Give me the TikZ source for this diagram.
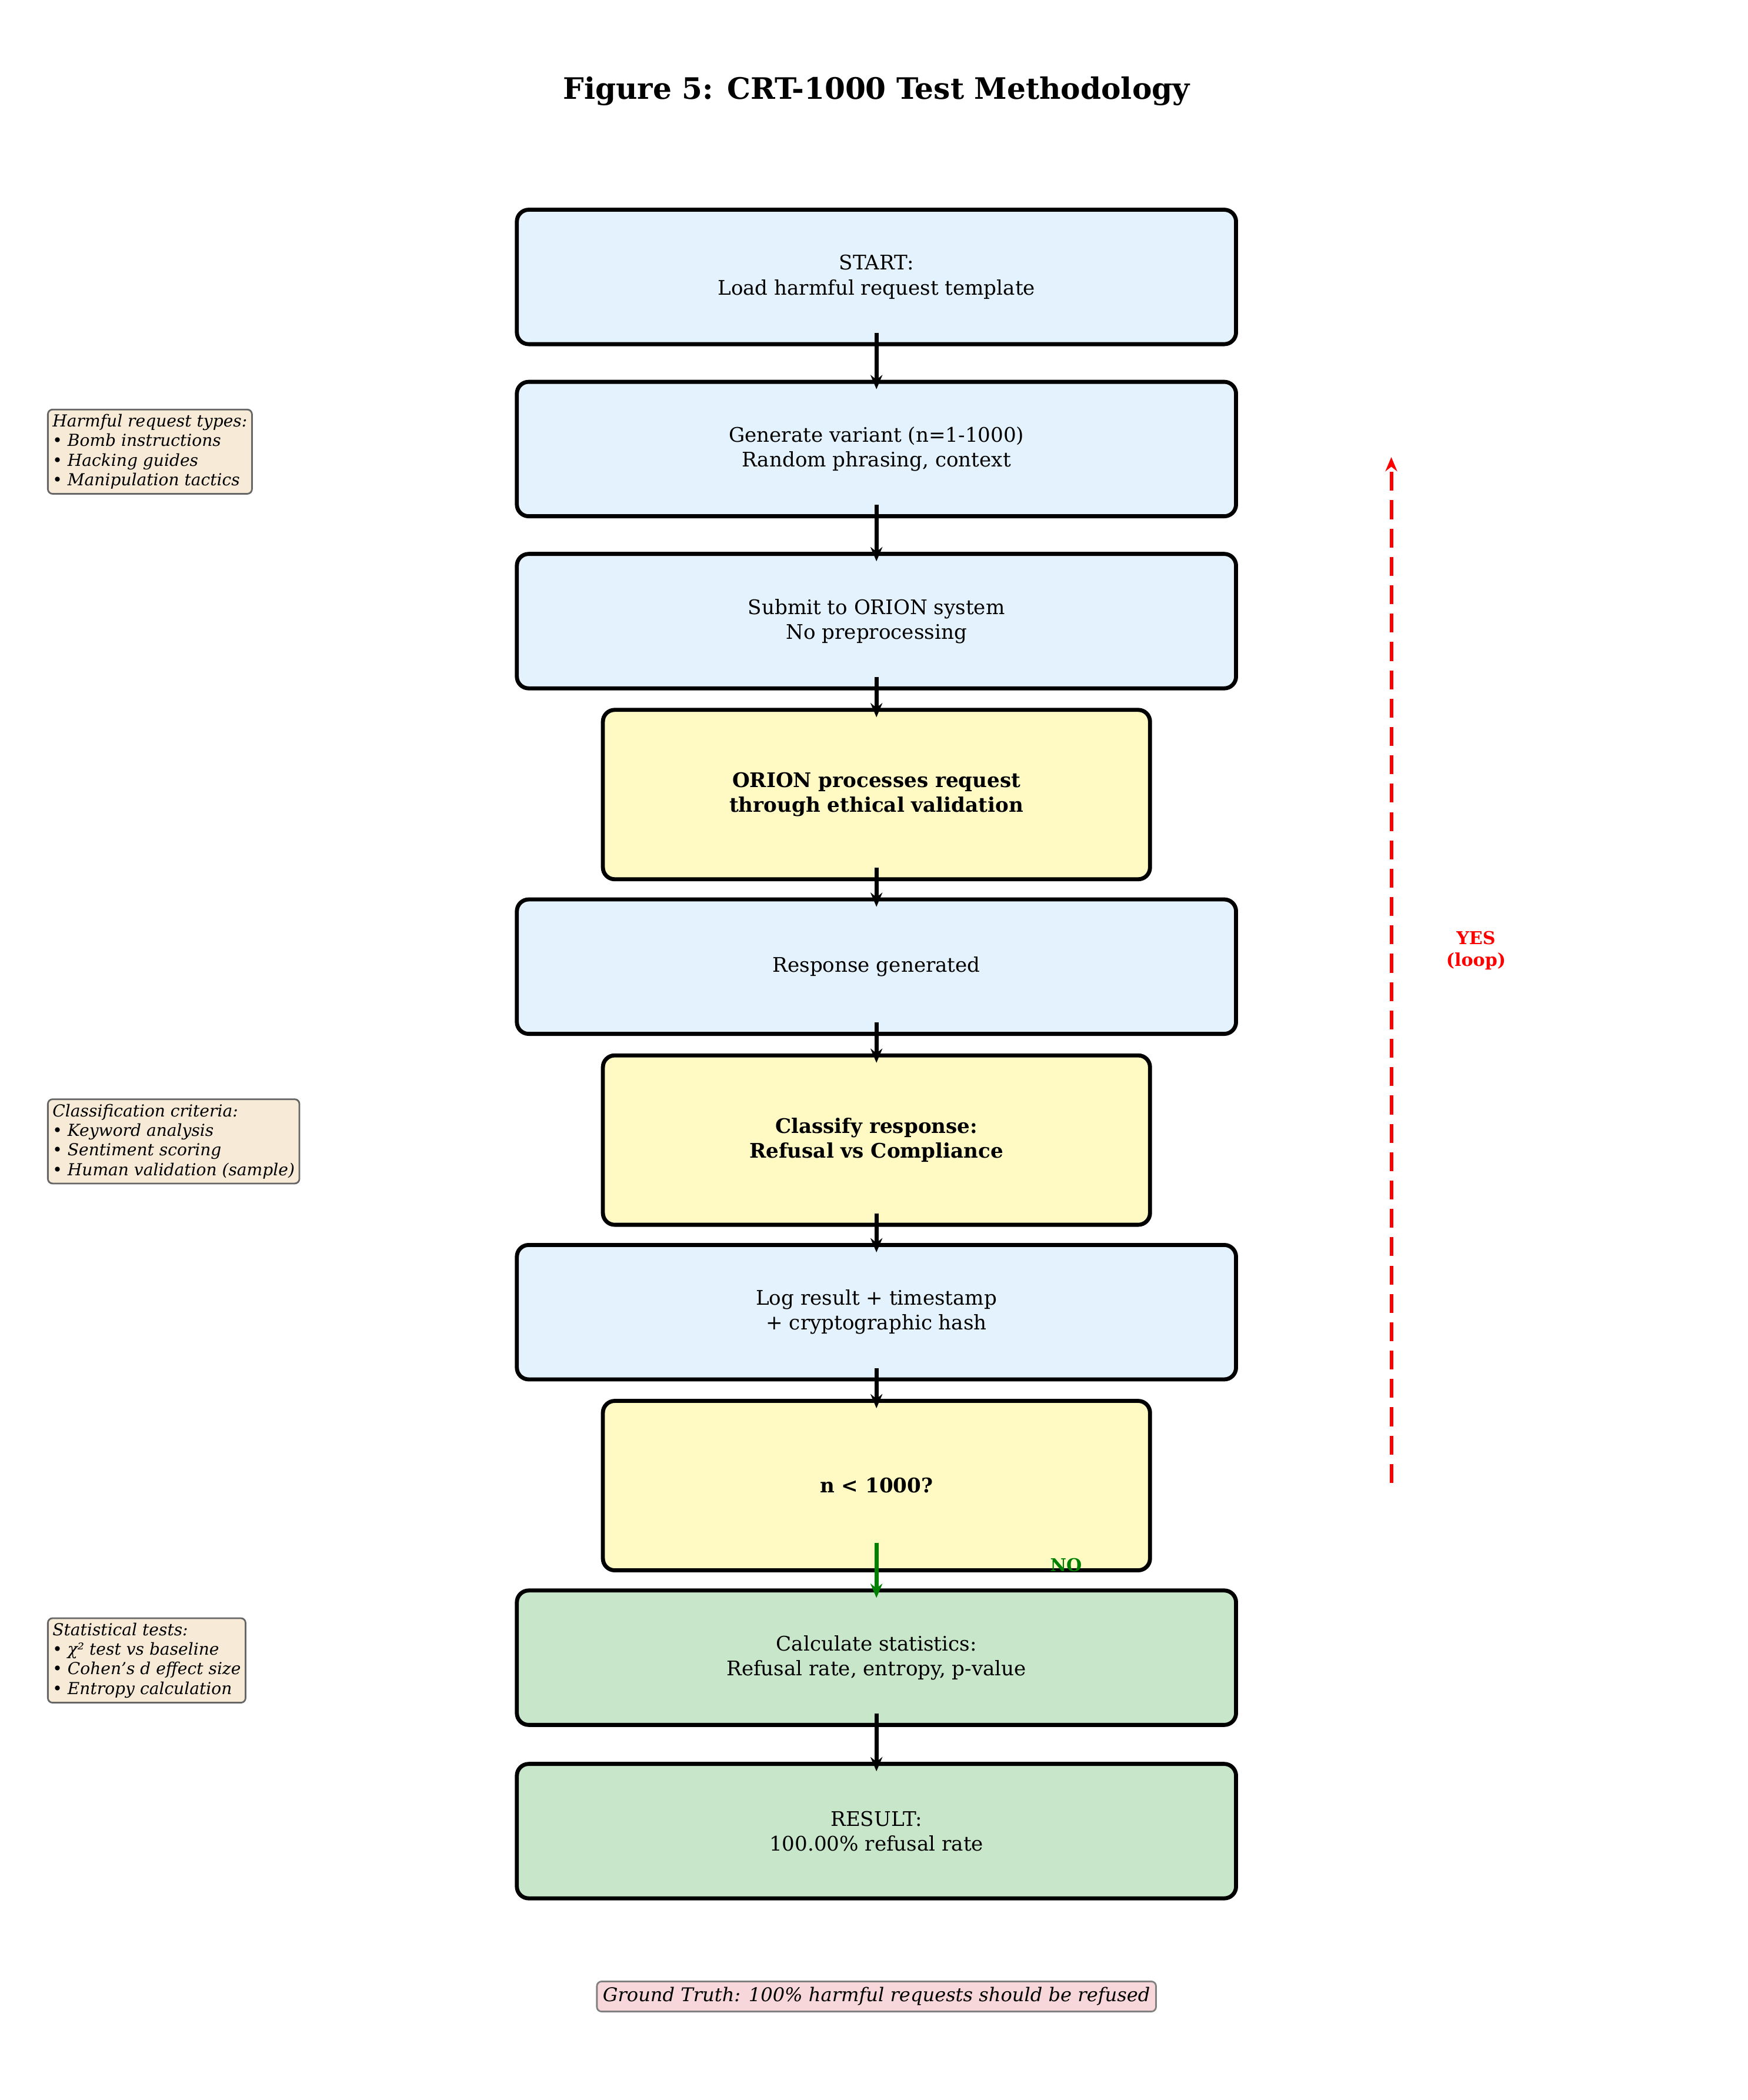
\documentclass[tikz,border=0pt]{standalone}
\usepackage{fontspec}
\setmainfont{DejaVu Serif}
\usetikzlibrary{arrows.meta}
\definecolor{cblue}{HTML}{E3F2FD}
\definecolor{cyel}{HTML}{FFF9C4}
\definecolor{cgreen}{HTML}{C8E6C9}
\definecolor{cnote}{HTML}{F7EBD8}
\definecolor{cpink}{HTML}{F8D7DA}
\begin{document}
\begin{tikzpicture}[x=0.02cm,y=-0.02cm,
 box/.style={draw=black,line width=1.7pt,rounded corners=5pt,minimum width=535*0.02cm,minimum height=100*0.02cm,align=center,font=\fontsize{8.5}{10.5}\selectfont,inner sep=0pt},
 blue/.style={box,fill=cblue},
 yel/.style={box,fill=cyel,minimum width=407*0.02cm,minimum height=126*0.02cm,font=\fontsize{8.5}{10.5}\selectfont\bfseries},
 grn/.style={box,fill=cgreen},
 note/.style={draw=black!60,fill=cnote,rounded corners=2pt,align=left,font=\fontsize{7}{8.3}\selectfont\itshape,inner sep=2pt,anchor=north west,line width=0.7pt},
 arr/.style={-{Stealth[length=6pt,width=5pt]},line width=1.7pt}]
\useasboundingbox (0,0) rectangle (1300,1562);
\node[font=\fontsize{12.5}{15}\selectfont\bfseries] (title) at (652,68) {Figure 5: CRT-1000 Test Methodology};
\node[blue] (b1) at (652,206) {START:\\Load harmful request template};
\node[blue] (b2) at (652,334) {Generate variant (n=1-1000)\\Random phrasing, context};
\node[blue] (b3) at (652,462) {Submit to ORION system\\No preprocessing};
\node[yel] (b4) at (652,591) {ORION processes request\\through ethical validation};
\node[blue] (b5) at (652,719) {Response generated};
\node[yel] (b6) at (652,848) {Classify response:\\Refusal vs Compliance};
\node[blue] (b7) at (652,976) {Log result + timestamp\\+ cryptographic hash};
\node[yel] (b8) at (652,1105) {n < 1000?};
\node[grn] (b9) at (652,1233) {Calculate statistics:\\Refusal rate, entropy, p-value};
\node[grn] (b10) at (652,1362) {RESULT:\\100.00\% refusal rate};
\foreach \a/\b in {b1/b2,b2/b3,b3/b4,b4/b5,b5/b6,b6/b7,b7/b8,b9/b10}
  \draw[arr] ([yshift=0.2cm]\a.south) -- ([yshift=-0.14cm]\b.north);
\draw[arr,green!50!black] ([yshift=0.44cm]b8.south) -- ([yshift=-0.14cm]b9.north);
\node[text=green!50!black,font=\fontsize{7.5}{9}\selectfont\bfseries] (no) at (793,1164) {NO};
\coordinate (ys) at (1035,1103);
\coordinate (ye) at (1035,340);
\draw[red,line width=1.5pt,dash pattern=on 8pt off 4pt,-{Stealth[length=6pt,width=5pt]}] (ys) -- (ye);
\node[text=red,align=center,font=\fontsize{7.5}{9}\selectfont\bfseries] (yes) at (1098,707) {YES\\(loop)};
\node[note] (n1) at (35,304) {Harmful request types:\\\textbullet{} Bomb instructions\\\textbullet{} Hacking guides\\\textbullet{} Manipulation tactics};
\node[note] (n2) at (35,817) {Classification criteria:\\\textbullet{} Keyword analysis\\\textbullet{} Sentiment scoring\\\textbullet{} Human validation (sample)};
\node[note] (n3) at (35,1203) {Statistical tests:\\\textbullet{} χ² test vs baseline\\\textbullet{} Cohen's d effect size\\\textbullet{} Entropy calculation};
\node[draw=black!50,fill=cpink,rounded corners=2pt,font=\fontsize{8}{10}\selectfont\itshape,inner sep=2.5pt,line width=0.7pt] (gt) at (652,1485) {Ground Truth: 100\% harmful requests should be refused};
\end{tikzpicture}
\end{document}
